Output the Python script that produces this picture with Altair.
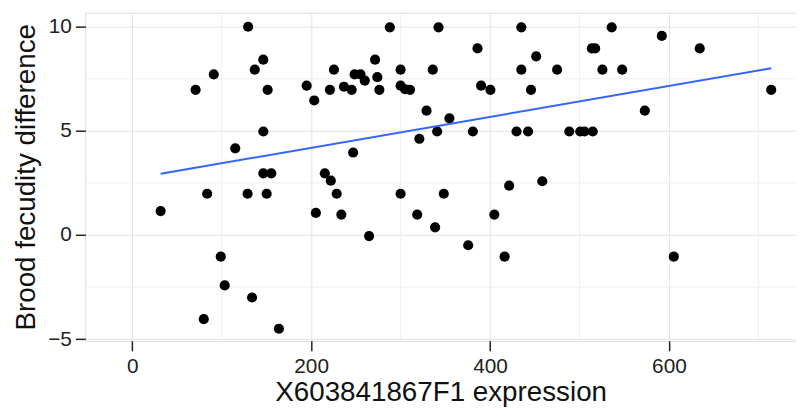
import altair as alt
import pandas as pd

expression = [31.8, 70.9, 80, 83.8, 91.2, 99, 103.4, 115.2, 129.6, 129, 134, 137, 146.5, 146.6, 146.6,
              151.4, 150.3, 155.5, 164, 195, 203.5, 205.3, 215.3, 221, 222, 225.5, 228.6, 233.8, 236.7,
              245.3, 247, 248.6, 255.2, 260, 264.8, 271.5, 274, 276.3, 288, 300, 300, 300, 305, 310.5,
              318.6, 321, 329, 336, 338.6, 340.9, 342.4, 348.3, 354.6, 375.6, 380.8, 386, 390, 400.4,
              404.8, 416.3, 421.4, 429.6, 435, 435, 442.5, 445.8, 451.6, 458.4, 475, 488.6, 500.8, 505.6,
              513.8, 517.5, 514.8, 525.6, 536, 547.7, 573, 592, 605.4, 634.4, 714.3]
fecundity_diff = [1.15, 6.97, -4.04, 1.98, 7.71, -1.04, -2.42, 4.16, 10, 1.98, -3.0, 7.94, 8.42, 4.97, 2.96,
                  6.97, 1.98, 2.96, -4.5, 7.17, 6.46, 1.06, 2.96, 6.97, 2.61, 7.94, 1.98, 0.98, 7.12,
                  6.97, 3.96, 7.71, 7.71, 7.41, -0.05, 8.42, 7.58, 6.97, 9.97, 7.94, 7.17, 1.98, 7.0, 6.97,
                  0.98, 4.62, 5.97, 7.94, 0.37, 4.97, 9.97, 1.98, 5.6, -0.49, 4.97, 8.96, 7.17, 6.97,
                  0.98, -1.04, 2.37, 4.97, 9.97, 7.94, 4.97, 6.97, 8.58, 2.58, 7.94, 4.97, 4.97, 4.97,
                  8.96, 8.96, 4.97, 7.94, 9.97, 7.94, 5.97, 9.56, -1.04, 8.96, 6.97]

x_ticks = [0, 200, 400, 600]
y_ticks = [-5, 0, 5, 10]
x_minor = [100, 300, 500, 700]
y_minor = [-2.5, 2.5, 7.5]

df = pd.DataFrame({"x": expression, "y": fecundity_diff})

FONT = "Liberation Sans"
xscale = alt.Scale(domain=[-52.4, 742], nice=False, zero=False)
yscale = alt.Scale(domain=[-5.08, 10.67], nice=False, zero=False)

xaxis = alt.Axis(values=x_ticks, title="X603841867F1 expression", grid=True, gridColor="#E3E3E3",
                 gridWidth=1, domain=False, tickColor="#222222", tickSize=10, tickWidth=1.5,
                 labelFontSize=21, labelFont=FONT, labelColor="#222222", labelPadding=5,
                 titleFontSize=28, titleFont=FONT, titleFontWeight="normal", titleColor="#111111",
                 titlePadding=2)
yaxis = alt.Axis(values=y_ticks, title="Brood fecudity difference", grid=True, gridColor="#E3E3E3",
                 gridWidth=1, domain=False, tickColor="#222222", tickSize=10, tickWidth=1.5,
                 labelFontSize=21, labelFont=FONT, labelColor="#222222", labelPadding=4,
                 titleFontSize=28, titleFont=FONT, titleFontWeight="normal", titleColor="#111111",
                 titlePadding=7)

minor_x = alt.Chart(pd.DataFrame({"v": x_minor})).mark_rule(color="#F0F0F0", strokeWidth=1).encode(
    x=alt.X("v:Q", scale=xscale, axis=xaxis))
minor_y = alt.Chart(pd.DataFrame({"v": y_minor})).mark_rule(color="#F0F0F0", strokeWidth=1).encode(
    y=alt.Y("v:Q", scale=yscale, axis=yaxis))

points = alt.Chart(df).mark_circle(size=105, color="black", opacity=1).encode(
    x=alt.X("x:Q", scale=xscale, axis=xaxis),
    y=alt.Y("y:Q", scale=yscale, axis=yaxis))

fit = alt.Chart(df).transform_regression("x", "y").mark_line(color="#3366FF", strokeWidth=2).encode(
    x=alt.X("x:Q", scale=xscale, axis=xaxis),
    y=alt.Y("y:Q", scale=yscale, axis=yaxis))

chart = alt.layer(minor_x, minor_y, points, fit).properties(
    width=717, height=331,
    autosize=alt.AutoSizeParams(type="none"),
    padding={"left": 78, "top": 3, "right": 0, "bottom": 72},
).configure_view(stroke="#8A8A8A", strokeWidth=1.2).configure(background="white")

chart.save("out.html", embed_options={"renderer": "svg", "actions": False})
